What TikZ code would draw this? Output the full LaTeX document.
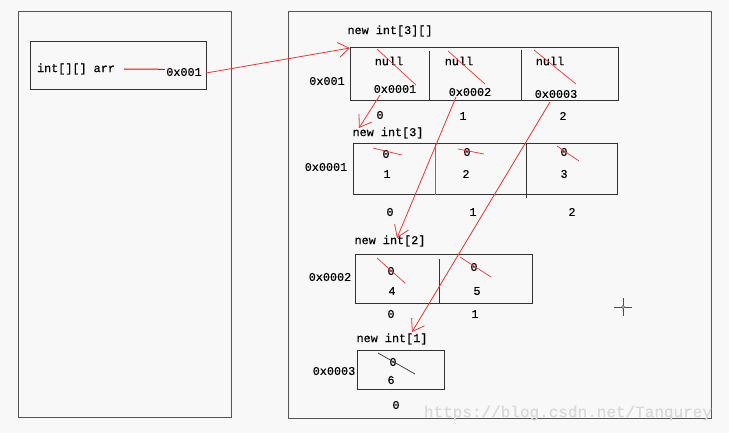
\documentclass[tikz,border=0pt]{standalone}
\usepackage{fontspec}
\setmonofont[FakeBold=0.5]{Liberation Mono}
\usetikzlibrary{arrows.meta}
\definecolor{bg}{HTML}{F8F8F8}
\definecolor{frame}{HTML}{555555}
\definecolor{redline}{HTML}{FF3030}
\begin{document}
\begin{tikzpicture}[x=1pt,y=-1pt,
  txt/.style={inner sep=0pt,font=\ttfamily\fontsize{11.8}{12}\selectfont,text=black},
  panel/.style={draw=frame,line width=1pt},
  cellbox/.style={draw=black!80,line width=1pt},
  divider/.style={draw=black!80,line width=1pt},
  strike/.style={draw=redline,line width=0.7pt},
  ptr/.style={draw=redline,line width=0.8pt,-{Straight Barb[length=11pt,width=15pt,line width=0.8pt]}}]
\fill[bg] (0,0) rectangle (729,433);
\useasboundingbox (0,0) rectangle (729,433);
% panels
\draw[panel] (18,12) rectangle (231,417);
\draw[panel] (288,12) rectangle (711,418);
% left variable box
\draw[cellbox] (30,42) rectangle (206,90);
\node[txt] (arr) at (76,69) {int[][] arr};
\node[txt] (ref) at (184,72) {0x001};
\coordinate (arrstart) at (124,69);
\coordinate (arrend) at (165,69.3);
\draw[draw=red,line width=1pt] (arrstart) -- (arrend);
% top array
\node[txt] (h1) at (390,31) {new int[3][]};
\node[txt] (l1) at (327,81) {0x001};
\draw[cellbox] (350,48) coordinate (b1) rectangle (618,101);
\draw[divider] (429,51) -- (429,101);
\draw[divider] (521,50) -- (521,101);
\node[txt] (n1) at (389,61) {null};
\node[txt] (n2) at (459,61) {null};
\node[txt] (n3) at (550,61) {null};
\node[txt] (a1) at (395,89) {0x0001};
\node[txt] (a2) at (470,92) {0x0002};
\node[txt] (a3) at (556,94) {0x0003};
\node[txt] (i10) at (380,115) {0};
\node[txt] (i11) at (463,116) {1};
\node[txt] (i12) at (563,116) {2};
\draw[strike] (377,49) -- (416,85);
\draw[strike] (448,51) -- (485,84);
\draw[strike] (534,50) -- (576,84);
% second array
\node[txt] (h2) at (388,133) {new int[3]};
\node[txt] (l2) at (326,167) {0x0001};
\draw[cellbox] (353,144) rectangle (617,195);
\draw[divider,draw=black!55] (435,144) -- (435,195);
\draw[divider] (526,144) -- (526,198);
\node[txt] (z21) at (386,154) {0};
\node[txt] (z22) at (467,152) {0};
\node[txt] (z23) at (564,152) {0};
\node[txt] (v21) at (387,174) {1};
\node[txt] (v22) at (466,174) {2};
\node[txt] (v23) at (564,174) {3};
\node[txt] (i20) at (390,212) {0};
\node[txt] (i21) at (473,212) {1};
\node[txt] (i22) at (572,212) {2};
\draw[strike] (373,148) -- (402,155);
\draw[strike] (458,149) -- (484,154);
\draw[strike] (557,146) -- (579,161);
% third array
\node[txt] (h3) at (390,241) {new int[2]};
\node[txt] (l3) at (330,277) {0x0002};
\draw[cellbox] (355,254) rectangle (532,303);
\draw[divider] (439,259) -- (439,303);
\node[txt] (z31) at (391,271) {0};
\node[txt] (z32) at (474,267) {0};
\node[txt] (v31) at (392,291) {4};
\node[txt] (v32) at (477,291) {5};
\node[txt] (i30) at (391,314) {0};
\node[txt] (i31) at (475,314) {1};
\draw[strike] (377,258) -- (405,283);
\draw[strike] (460,257) -- (491,277);
% fourth array
\node[txt] (h4) at (392,339) {new int[1]};
\node[txt] (l4) at (334,371) {0x0003};
\draw[cellbox] (357,350) rectangle (444,389);
\node[txt] (z41) at (393,362) {0};
\node[txt] (v41) at (391,380) {6};
\node[txt] (i40) at (396,405) {0};
\draw[draw=black!80,line width=0.7pt] (378,353) -- (415,374);
% pointers
\coordinate (s1) at (206,73);
\coordinate (s2) at (380,95);
\coordinate (s3) at (456,97);
\coordinate (s4) at (550,102);
\coordinate (e2) at (359,128);
\coordinate (e3) at (397,238);
\coordinate (e4) at (412,332);
\draw[ptr] (s1) -- (b1);
\draw[ptr] (s2) -- (e2);
\draw[ptr] (s3) -- (e3);
\draw[ptr] (s4) -- (e4);
% cursor
\draw[black!70,line width=0.8pt] (614,307) -- (632,307) (623,298) -- (623,316);
\draw[black!70,fill=bg,line width=0.6pt] (623,307) circle (1.5);
% watermark
\node[inner sep=0pt,font=\fontsize{16}{16}\selectfont\ttfamily,text=black!15] (wm) at (568,413) {https://blog.csdn.net/Tanqurey};
\end{tikzpicture}
\end{document}
